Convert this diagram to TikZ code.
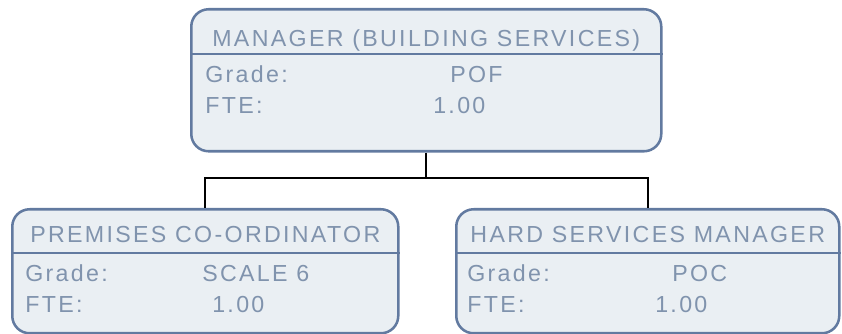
\documentclass[tikz,border=0pt]{standalone}
\usepackage{fontspec}
\newfontfamily\chartfont{Liberation Sans}[LetterSpace=10]
\usetikzlibrary{calc}
\definecolor{postline}{RGB}{98,122,160}
\definecolor{postfill}{RGB}{234,239,243}
\definecolor{posttext}{RGB}{128,147,173}
\tikzset{
  post/.style={
    draw=postline,
    fill=postfill,
    line width=1.9pt,
    rounded corners=13pt,
    inner sep=0pt
  },
  postrule/.style={draw=postline,line width=1.9pt},
  link/.style={draw=black,line width=1.8pt,line join=miter},
  heading/.style={font=\chartfont\fontsize{17.4pt}{20pt}\selectfont,text=posttext,inner sep=0pt,anchor=base},
  field/.style={font=\chartfont\fontsize{17.4pt}{20pt}\selectfont,text=posttext,inner sep=0pt,anchor=base west}
}
\newcommand{\postbox}[5]{%
  \node[post,anchor=north west,minimum width={#4*0.75pt},minimum height={#5*0.75pt}] (#1) at (#2,#3) {};%
}

\begin{document}
\begin{tikzpicture}[x=0.75pt,y=-0.75pt]
  \useasboundingbox (0,0) rectangle (842,334);

  % Boxes.
  \postbox{mgr}{190}{8}{470}{142}
  \postbox{prem}{11}{208}{386}{124}
  \postbox{hard}{455}{208}{383}{124}

  % Header rules.
  \draw[postrule] (mgr.west |- 0,54) -- (mgr.east |- 0,54);
  \draw[postrule] (prem.west |- 0,253) -- (prem.east |- 0,253);
  \draw[postrule] (hard.west |- 0,253) -- (hard.east |- 0,253);

  % Manager (building services).
  \node[heading] (mgrtitle) at (mgr.center |- 0,47) {MANAGER (BUILDING SERVICES)};
  \node[field] (mgrgl) at (205,83) {Grade:};
  \node[field] (mgrgv) at (450,83) {POF};
  \node[field] (mgrfl) at (205,114) {FTE:};
  \node[field] (mgrfv) at (433,114) {1.00};

  % Premises co-ordinator.
  \node[heading] (premtitle) at (prem.center |- 0,243) {PREMISES CO-ORDINATOR};
  \node[field] (premgl) at (25,282) {Grade:};
  \node[field] (premgv) at (202,282) {SCALE 6};
  \node[field] (premfl) at (25,313) {FTE:};
  \node[field] (premfv) at (212,313) {1.00};

  % Hard services manager.
  \node[heading] (hardtitle) at (hard.center |- 0,243) {HARD SERVICES MANAGER};
  \node[field] (hardgl) at (467,282) {Grade:};
  \node[field] (hardgv) at (672,282) {POC};
  \node[field] (hardfl) at (467,313) {FTE:};
  \node[field] (hardfv) at (655,313) {1.00};

  % Reporting lines.
  \coordinate (bus) at (mgr.south |- 0,178);
  \draw[link] (mgr.south) -- (bus);
  \draw[link] (prem.north) |- (bus) -| (hard.north);
\end{tikzpicture}
\end{document}
